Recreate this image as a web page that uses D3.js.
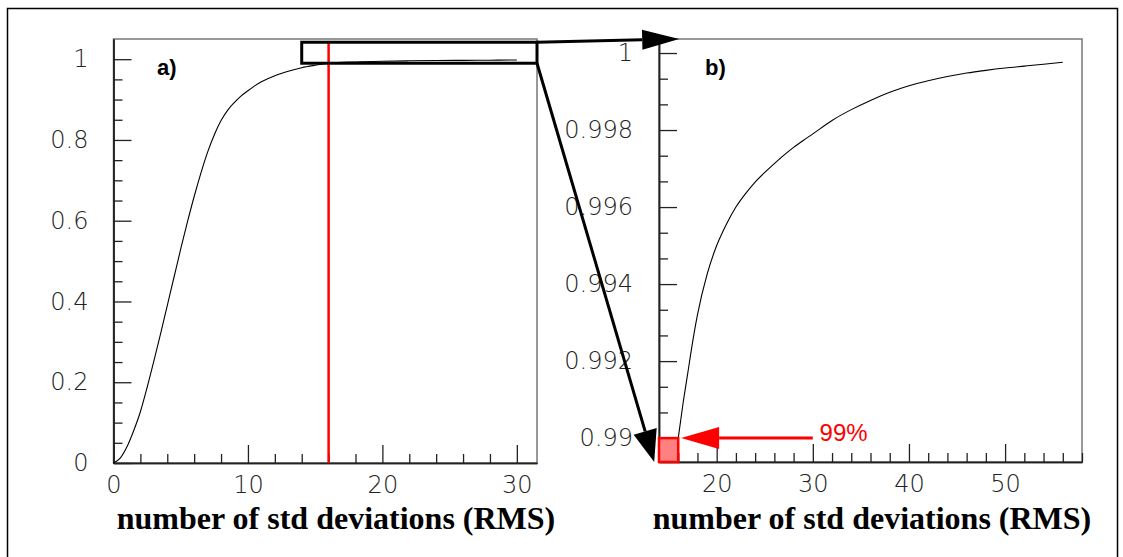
<!DOCTYPE html>
<html>
<head>
<meta charset="utf-8">
<script src="https://cdn.jsdelivr.net/npm/d3@7"></script>
<style>
  body { margin: 0; background: #fff; }
  svg { display: block; }
  .tick-label { font-family: "DejaVu Sans", sans-serif; font-weight: 200; font-size: 24px; fill: #222; }
  .axis-title { font-family: "Liberation Serif", "Times New Roman", serif; font-weight: bold; font-size: 32px; fill: #000; }
  .panel-label { font-family: "Liberation Sans", Arial, sans-serif; font-weight: bold; font-size: 22px; fill: #000; }
</style>
</head>
<body>
<script>
// panel a) cumulative fraction vs number of std deviations
const aX = [0, 0.5, 1, 1.5, 2, 2.5, 3, 3.5, 4, 4.5, 5, 5.5, 6, 6.5, 7, 7.5, 8, 8.5, 9, 9.5, 10, 10.5, 11, 12, 13, 14, 15, 16, 18, 20, 22, 24, 26, 28, 30];
const aY = [0, 0.012, 0.04, 0.08, 0.127, 0.187, 0.252, 0.32, 0.39, 0.46, 0.53, 0.597, 0.66, 0.718, 0.77, 0.813, 0.848, 0.874, 0.893, 0.909, 0.922, 0.934, 0.944, 0.959, 0.970, 0.979, 0.985, 0.990, 0.9932, 0.9950, 0.9960, 0.99665, 0.99713, 0.99755, 0.9980];
// panel b) zoom on the top of the curve
const bX = [16, 16.5, 17, 17.5, 18, 19, 20, 21, 22, 23, 24, 25, 26, 27, 28, 29, 30, 32, 34, 36, 38, 40, 42, 44, 46, 48, 50, 52, 54, 56];
const bY = [0.9900, 0.9909, 0.9917, 0.9925, 0.9932, 0.99425, 0.9950, 0.99555, 0.9960, 0.99635, 0.99665, 0.9969, 0.99713, 0.99735, 0.99755, 0.99773, 0.9979, 0.99825, 0.99853, 0.99877, 0.99898, 0.99915, 0.99928, 0.99939, 0.99948, 0.99955, 0.99961, 0.99966, 0.99971, 0.99976];

const aXTicks = [0, 10, 20, 30];
const aXLabels = ["0", "10", "20", "30"];
const aYTicks = [0, 0.2, 0.4, 0.6, 0.8, 1];
const aYLabels = ["0", "0.2", "0.4", "0.6", "0.8", "1"];
const bXTicks = [20, 30, 40, 50];
const bXLabels = ["20", "30", "40", "50"];
const bYTicks = [0.99, 0.992, 0.994, 0.996, 0.998, 1];
const bYLabels = ["0.99", "0.992", "0.994", "0.996", "0.998", "1"];

const cut = 16;        // 99% point
const cutLevel = 0.99;
const zoomBox = [14, 31.5, 0.99, 1.042]; // x0, x1, y0, y1 in panel a units

const W = 1123, H = 557;
const svg = d3.select("body").append("svg").attr("width", W).attr("height", H);
svg.append("rect").attr("width", W).attr("height", H).attr("fill", "#fff");
svg.append("rect").attr("x", 7.5).attr("y", 8.5).attr("width", 1110).attr("height", 640)
  .attr("fill", "none").attr("stroke", "#000").attr("stroke-width", 1.5);

const xa = d3.scaleLinear().domain([0, 31.5]).range([113.5, 537]);
const ya = d3.scaleLinear().domain([0, 1.05]).range([463, 39]);
const xb = d3.scaleLinear().domain([14, 58]).range([659, 1082]);
const yb = d3.scaleLinear().domain([0.98938, 1.000364]).range([462, 39]);

function minorTicks(majors, step, lo, hi) {
  const out = [];
  for (let v = lo; v <= hi + 1e-9; v += step) {
    if (!majors.some(m => Math.abs(m - v) < step / 10)) out.push(v);
  }
  return out;
}

function panel(x, y, xt, xl, yt, yl, xMinor, yMinor, labelPad) {
  const [x0, x1] = x.range();
  const [y0, y1] = y.range();
  const g = svg.append("g");
  g.append("rect").attr("x", x0).attr("y", y1).attr("width", x1 - x0).attr("height", y0 - y1)
    .attr("fill", "none").attr("stroke", "#777").attr("stroke-width", 1.5);

  const xAxis = g.append("g").attr("transform", `translate(0,${y0})`)
    .call(d3.axisBottom(x).tickValues(xt).tickSizeInner(-18).tickSizeOuter(0).tickPadding(22)
      .tickFormat((d, i) => xl[i]));
  const xMin = g.append("g").attr("transform", `translate(0,${y0})`)
    .call(d3.axisBottom(x).tickValues(xMinor).tickSizeInner(-9).tickSizeOuter(0).tickFormat(""));
  const yAxis = g.append("g").attr("transform", `translate(${x0},0)`)
    .call(d3.axisLeft(y).tickValues(yt).tickSizeInner(-18).tickSizeOuter(0).tickPadding(labelPad)
      .tickFormat((d, i) => yl[i]));
  const yMin = g.append("g").attr("transform", `translate(${x0},0)`)
    .call(d3.axisLeft(y).tickValues(yMinor).tickSizeInner(-9).tickSizeOuter(0).tickFormat(""));

  [xAxis, xMin, yAxis, yMin].forEach(a => {
    a.select(".domain").attr("stroke", "#222").attr("stroke-width", 1.5);
    a.selectAll(".tick line").attr("stroke", "#222").attr("stroke-width", 1.3);
    a.attr("font-family", null).attr("font-size", null);
  });
  xAxis.selectAll(".tick text").attr("class", "tick-label").attr("dy", "0.35em");
  yAxis.selectAll(".tick text").attr("class", "tick-label");
  return g;
}

// panel a
const ga = panel(xa, ya, aXTicks, aXLabels, aYTicks, aYLabels,
  minorTicks(aXTicks, 2, 0, 30), minorTicks(aYTicks, 0.05, 0, 1), 25);
ga.append("path").datum(aX.map((v, i) => [v, aY[i]]))
  .attr("fill", "none").attr("stroke", "#000").attr("stroke-width", 1.1)
  .attr("d", d3.line().x(d => xa(d[0])).y(d => ya(d[1])).curve(d3.curveMonotoneX));
ga.append("line").attr("x1", xa(cut)).attr("x2", xa(cut)).attr("y1", ya(0)).attr("y2", ya(zoomBox[3]))
  .attr("stroke", "#f00").attr("stroke-width", 2.5);
ga.append("rect").attr("x", xa(zoomBox[0])).attr("y", ya(zoomBox[3]))
  .attr("width", xa(zoomBox[1]) - xa(zoomBox[0])).attr("height", ya(zoomBox[2]) - ya(zoomBox[3]))
  .attr("fill", "none").attr("stroke", "#000").attr("stroke-width", 3);
ga.append("text").attr("class", "panel-label").attr("x", 157).attr("y", 75).text("a)");

// panel b
const gb = panel(xb, yb, bXTicks, bXLabels, bYTicks, bYLabels,
  minorTicks(bXTicks, 2, 14, 58), minorTicks(bYTicks, 0.002 / 3, 0.99, 1), 26);
gb.append("path").datum(bX.map((v, i) => [v, bY[i]]))
  .attr("fill", "none").attr("stroke", "#000").attr("stroke-width", 1.1)
  .attr("d", d3.line().x(d => xb(d[0])).y(d => yb(d[1])).curve(d3.curveMonotoneX));
gb.append("rect").attr("x", xb(14)).attr("y", yb(cutLevel))
  .attr("width", xb(cut) - xb(14)).attr("height", yb.range()[0] - yb(cutLevel))
  .attr("fill", "#ff8080").attr("stroke", "#f00").attr("stroke-width", 2.5);
gb.append("text").attr("class", "panel-label").attr("x", 705).attr("y", 75).text("b)");

// arrows
function arrow(x1, y1, x2, y2, color, len, half) {
  const ang = Math.atan2(y2 - y1, x2 - x1);
  const bx = x2 - len * Math.cos(ang), by = y2 - len * Math.sin(ang);
  svg.append("line").attr("x1", x1).attr("y1", y1).attr("x2", bx).attr("y2", by)
    .attr("stroke", color).attr("stroke-width", 3);
  const px = -Math.sin(ang) * half, py = Math.cos(ang) * half;
  svg.append("path")
    .attr("d", `M${x2},${y2}L${bx + px},${by + py}L${bx - px},${by - py}Z`)
    .attr("fill", color);
}
arrow(xa(zoomBox[1]), ya(zoomBox[3]), xb(16.1), yb.range()[1], "#000", 37, 10);
arrow(xa(zoomBox[1]), ya(zoomBox[2]), xb(13.5), yb.range()[0], "#000", 32, 12);
arrow(xb(30), yb(cutLevel), xb(16.3), yb(cutLevel), "#f00", 38, 11);
svg.append("text").attr("x", xb(30.7)).attr("y", yb(cutLevel) + 3)
  .attr("font-family", "Liberation Sans, Arial, sans-serif").attr("font-size", 24)
  .attr("fill", "#f00").text("99%");

// axis titles
svg.append("text").attr("class", "axis-title").attr("x", 336).attr("y", 529)
  .attr("text-anchor", "middle").text("number of std deviations (RMS)");
svg.append("text").attr("class", "axis-title").attr("x", 872).attr("y", 529)
  .attr("text-anchor", "middle").text("number of std deviations (RMS)");
</script>
</body>
</html>
